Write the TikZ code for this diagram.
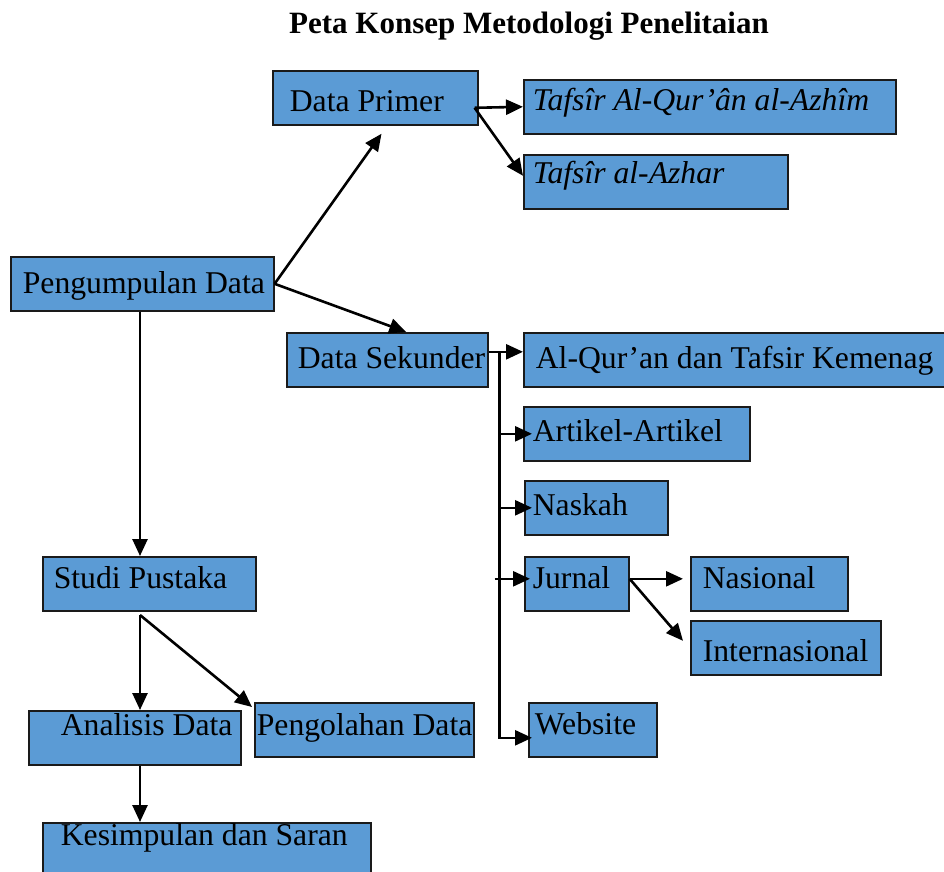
\documentclass[tikz,border=0pt]{standalone}
\usepackage{fontspec}
\setmainfont{Liberation Serif}
\usepackage{xcolor}
\usetikzlibrary{arrows.meta}
\definecolor{boxblue}{HTML}{5B9BD5}
\definecolor{edge}{HTML}{1A1A1A}

\begin{document}
\begin{tikzpicture}[x=1pt,y=-1pt,box/.style={draw=edge,line width=1.6pt,fill=boxblue,anchor=north west,inner xsep=0pt,inner ysep=0pt,minimum height=54pt,align=flush left,text height=35pt,text depth=19pt,font=\fontsize{31.7}{36}\selectfont},pad/.style={execute at begin node={\spaceskip=0pt\relax\hspace*{#1}}},link/.style={line width=2.6pt},arr/.style={link,-{Triangle[length=17pt,width=15pt]}}]
\useasboundingbox (0,0) rectangle (944,871);
\node[anchor=base west,inner sep=0pt,font=\bfseries\fontsize{31}{36}\selectfont] (title) at (289,33) {Peta Konsep Metodologi Penelitaian};
% kolom kiri
\node[box,text width=263pt,pad=12pt,text height=37pt,text depth=17pt] (kumpul) at (10,256) {Pengumpulan Data};
\node[box,text width=213pt,pad=11pt,text height=32pt,text depth=22pt] (studi) at (42,556) {Studi Pustaka};
\node[box,text width=212pt,pad=32pt,text height=25pt,text depth=29pt] (analisis) at (28,710) {Analisis Data};
\node[box,text width=219pt,pad=2pt,text height=33pt,text depth=21pt] (olah) at (254,702) {Pengolahan Data};
\node[box,text width=328pt,pad=18pt,text height=23pt,text depth=31pt] (simpulan) at (42,822) {Kesimpulan dan Saran};
% data primer
\node[box,text width=205pt,pad=17pt,text height=41pt,text depth=13pt] (primer) at (272,70) {Data Primer};
\node[box,text width=372pt,pad=9pt,text height=31pt,text depth=23pt] (qurazhim) at (523,79) {\textit{Tafsîr Al-Qur’ân al-Azhîm}};
\node[box,text width=264pt,pad=9pt,text height=29pt,text depth=25pt] (azhar) at (523,154) {\textit{Tafsîr al-Azhar}};
% data sekunder
\node[box,text width=201pt,pad=11pt,text height=36pt,text depth=18pt] (sekunder) at (286,332) {Data Sekunder};
\node[box,text width=424pt,pad=12pt,text height=36pt,text depth=18pt] (kemenag) at (523,332) {Al-Qur’an dan Tafsir Kemenag};
\node[box,text width=226pt,pad=9pt] (artikel) at (523,406) {Artikel-Artikel};
\node[box,text width=143pt,pad=8pt] (naskah) at (524,480) {Naskah};
\node[box,text width=104pt,pad=8pt,text height=32pt,text depth=22pt] (jurnal) at (524,556) {Jurnal};
\node[box,text width=157pt,pad=12pt,text height=32pt,text depth=22pt] (nasional) at (690,556) {Nasional};
\node[box,text width=190pt,pad=12pt,text height=41pt,text depth=13pt] (internasional) at (690,620) {Internasional};
\node[box,text width=128pt,pad=6pt,text height=32pt,text depth=22pt] (website) at (528,702) {Website};
% panah
\draw[arr,shorten >=10pt] (kumpul.east) -- ([xshift=12pt]primer.south);
\draw[arr] (kumpul.east) -- ([xshift=19pt]sekunder.north);
\draw[arr] ([xshift=-4pt,yshift=-10pt]primer.east) -- (qurazhim.west);
\draw[arr] ([xshift=-4pt,yshift=-10pt]primer.east) -- ([yshift=6pt]azhar.west);
\draw[arr] ([yshift=8pt]sekunder.east) -- ([yshift=8pt]kemenag.west);
\coordinate (split) at ([xshift=11pt,yshift=8pt]sekunder.east);
\coordinate (jtip) at ([xshift=6pt,yshift=5pt]jurnal.west);
\coordinate (wtip) at ([xshift=4pt,yshift=-8pt]website.west);
\draw[arr] (split) |- (wtip);
\draw[arr] (split |- artikel.west) -- ([xshift=9pt]artikel.west);
\draw[arr] (split |- naskah.west) -- ([xshift=8pt]naskah.west);
\draw[arr] ([xshift=-5pt]split |- jtip) -- (jtip);
\draw[arr] ([yshift=5pt]jurnal.east) -- ([xshift=-7pt,yshift=5pt]nasional.west);
\draw[arr] ([yshift=5pt]jurnal.east) -- ([xshift=-7pt,yshift=7pt]internasional.west);
\coordinate (fork) at (140,615);
\draw[arr] (kumpul.south -| fork) -- (fork |- studi.north);
\draw[arr] (fork) -- (fork |- analisis.north);
\draw[arr] (fork) -- ([xshift=-2pt,yshift=-5pt]olah.north west);
\draw[arr] (fork |- analisis.south) -- (fork |- simpulan.north);
\end{tikzpicture}
\end{document}
